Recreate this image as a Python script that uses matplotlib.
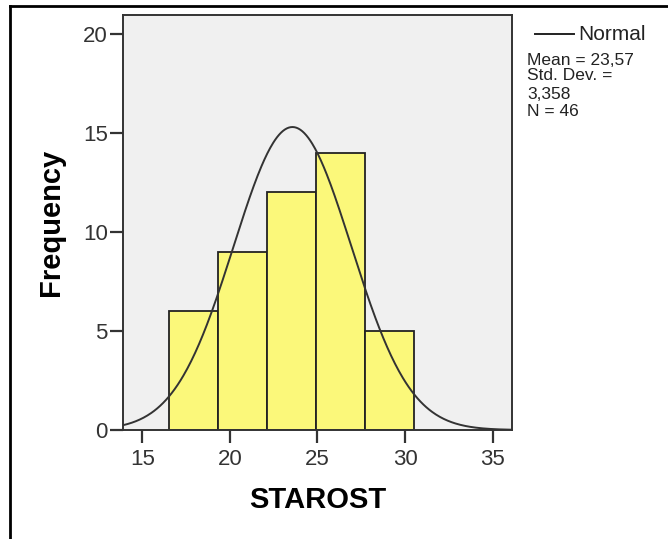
import numpy as np
import matplotlib
matplotlib.use("Agg")
import matplotlib.pyplot as plt
from matplotlib.lines import Line2D

plt.rcParams['font.family'] = ['Liberation Sans', 'DejaVu Sans']

bin_edges = [16.5, 19.3, 22.1, 24.9, 27.7, 30.5]
counts = [6, 9, 12, 14, 5]
mean = 23.57
std = 3.358
n = 46
x_ticks = [15, 20, 25, 30, 35]
y_ticks = [0, 5, 10, 15, 20]
stats_lines = ['Mean = 23,57', 'Std. Dev. =', '3,358', 'N = 46']

W, H = 668, 539
fig = plt.figure(figsize=(W/100, H/100), dpi=100)
ax = fig.add_axes([123/W, 1-430/H, (512-123)/W, (430-15)/H])
ax.set_facecolor('#f0f0f0')

widths = np.diff(bin_edges)
ax.bar(bin_edges[:-1], counts, width=widths, align='edge',
       color='#fbf87a', edgecolor='#222222', linewidth=1.3, zorder=2)

xs = np.linspace(13.9, 36.1, 400)
bw = widths.mean()
ys = n * bw / (std * np.sqrt(2*np.pi)) * np.exp(-0.5*((xs-mean)/std)**2)
ax.plot(xs, ys, color='#333333', linewidth=1.4, zorder=3)

ax.set_xlim(13.9, 36.1)
ax.set_ylim(0, 20.96)
ax.set_xticks(x_ticks)
ax.set_yticks(y_ticks)
ax.tick_params(direction='out', length=9.5, width=1.6, labelsize=16, colors='#333333')
ax.tick_params(axis='x', pad=4)
ax.tick_params(axis='y', pad=1.5)
for s in ax.spines.values():
    s.set_linewidth(1.4)
    s.set_color('#333333')

ax.set_xlabel('STAROST', fontsize=21, fontweight='bold', labelpad=12)
ax.set_ylabel('Frequency', fontsize=21, fontweight='bold', labelpad=13)

# Legend-like annotation
fig.add_artist(Line2D([535/W, 574/W], [1-34/H, 1-34/H], color='#222222', linewidth=1.4))
fig.text(578/W, 1-34/H, 'Normal', fontsize=15, va='center', ha='left', color='#222222')
baselines = [65, 80, 99, 116]
for txt, yb in zip(stats_lines, baselines):
    fig.text(527/W, 1-yb/H, txt, fontsize=12.5, va='baseline', ha='left', color='#222222')

# outer frame (top and left)
fig.add_artist(Line2D([10/W, 1.0], [1-6/H, 1-6/H], color='black', linewidth=2))
fig.add_artist(Line2D([10/W, 10/W], [0, 1-6/H], color='black', linewidth=2))

fig.savefig('out.png', dpi=100)
